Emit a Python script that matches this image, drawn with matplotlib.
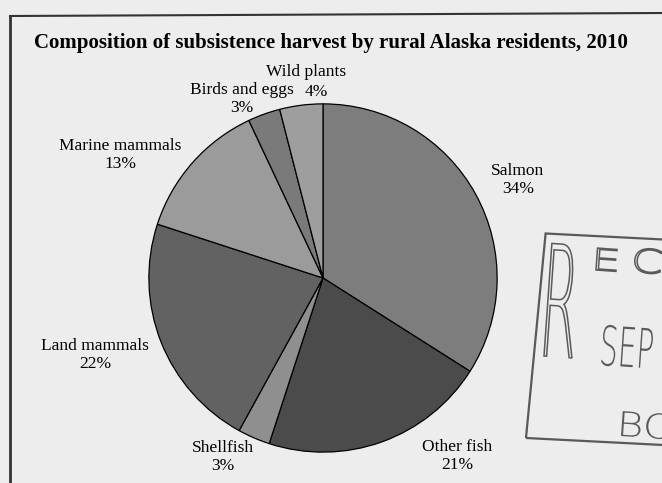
import matplotlib
matplotlib.use('Agg')
import matplotlib.pyplot as plt
from matplotlib.patches import Rectangle, PathPatch
from matplotlib.textpath import TextPath
from matplotlib.font_manager import FontProperties
from matplotlib.transforms import Affine2D

plt.rcParams['font.family'] = ['Liberation Serif', 'DejaVu Serif']

title = 'Composition of subsistence harvest by rural Alaska residents, 2010'
categories = ['Salmon', 'Other fish', 'Shellfish', 'Land mammals',
              'Marine mammals', 'Birds and eggs', 'Wild plants']
shares = [34, 21, 3, 22, 13, 3, 4]
colors = ['#7d7d7d', '#4b4b4b', '#8f8f8f', '#626262', '#9b9b9b', '#7a7a7a', '#9e9e9e']
# label centres in pixels (x from left, y from top)
label_pos = [(518, 180), (457, 456), (223, 457), (95, 355),
             (120, 155), (242, 99), (309, 82)]

W, H = 662, 483
bg = '#ededed'


def px(x, y):
    return x / W, 1 - y / H


fig = plt.figure(figsize=(W / 100, H / 100), dpi=100, facecolor=bg)

# pie, centre (323, 278), radius 175 px
cx, cy, r = 323, 278, 175
ax = fig.add_axes([(cx - r) / W, (H - cy - r) / H, 2 * r / W, 2 * r / H])
ax.set_facecolor(bg)
ax.pie(shares, colors=colors, startangle=90, counterclock=False, radius=1,
       wedgeprops=dict(edgecolor='black', linewidth=0.9))
ax.set_xlim(-1.005, 1.005)
ax.set_ylim(-1.005, 1.005)
ax.axis('off')

for name, val, (x, y) in zip(categories, shares, label_pos):
    if name == 'Wild plants':
        fig.text(*px(x - 3, y - 10), name, ha='center', va='center', fontsize=12.5)
        fig.text(*px(x + 7, y + 10), f'{val}%', ha='center', va='center', fontsize=12.5)
    else:
        fig.text(*px(x, y), f'{name}\n{val}%', ha='center', va='center',
                 fontsize=12.5, linespacing=1.15)

fig.text(*px(331, 43), title, ha='center', va='center', fontsize=15,
         fontweight='bold')

# frame of the chart
fig.add_artist(plt.Line2D([10 / W, 10 / W], [0, 1 - 16 / H], color='#333333', lw=2))
fig.add_artist(plt.Line2D([10 / W, 1], [1 - 16 / H, 1 - 13 / H], color='#333333', lw=1.5))

# received stamp
rot = -4
stamp = '#5a5a5a'
fig.add_artist(Rectangle(px(526, 438), 200 / W, 205 / H, angle=rot,
                         rotation_point='xy', fill=False, edgecolor=stamp, lw=1.6,
                         transform=fig.transFigure))

sans = FontProperties(family='DejaVu Sans', weight='light')


def stamp_text(s, x, y, width, cap, hollow):
    # x, y: bottom-left of the letters in pixels from top-left
    path = TextPath((0, 0), s, size=1, prop=sans)
    ext = path.get_extents()
    tr = (Affine2D().translate(-ext.x0, 0)
          .scale(width / ext.width, cap / 0.73)
          .rotate_deg(rot).translate(x, H - y))
    if hollow:
        patch = PathPatch(path, facecolor=bg, edgecolor=stamp, lw=1.1)
    else:
        patch = PathPatch(path, facecolor=stamp, edgecolor='none')
    patch.set_transform(tr)
    fig.add_artist(patch)


stamp_text('R', 544, 356, 28, 113, True)
stamp_text('E', 596, 270, 20, 22, True)
stamp_text('C', 634, 272, 26, 24, True)
stamp_text('SEP', 601, 365, 50, 40, False)
stamp_text('BO', 621, 436, 50, 25, False)

fig.savefig('out.png', dpi=100, facecolor=bg)
